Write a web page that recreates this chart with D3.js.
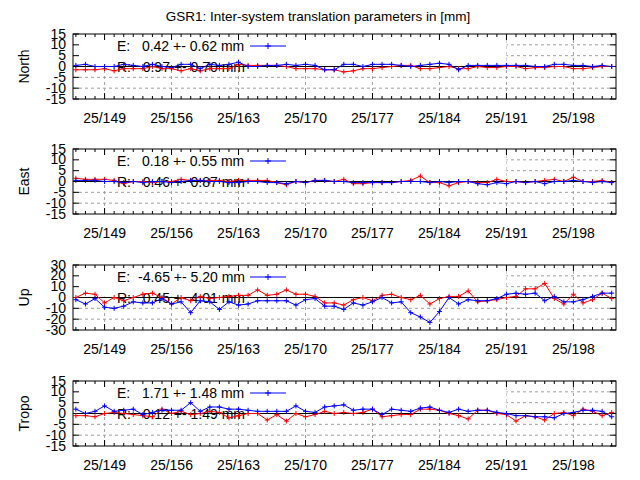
<!DOCTYPE html>
<html><head><meta charset="utf-8">
<script src="https://cdn.jsdelivr.net/npm/d3@7"></script>
<style>body{margin:0;background:#fff}text{font-family:"Liberation Sans",Arial,sans-serif}</style>
</head><body><svg id="c" width="640" height="480"></svg>
<script>
const days = d3.range(146, 203)
const tickDays = [149, 156, 163, 170, 177, 184, 191, 198]
const panelNames = ["North", "East", "Up", "Tropo"]
const keyE = ["E:   0.42 +- 0.62 mm", "E:   0.18 +- 0.55 mm", "E:  -4.65 +- 5.20 mm", "E:   1.71 +- 1.48 mm"]
const keyR = ["R:   0.97 +- 0.70 mm", "R:   0.46 +- 0.87 mm", "R:   0.45 +- 4.01 mm", "R:   0.12 +- 1.49 mm"]
const northE = [0.5,1,0,0,0,1,0.5,0,1,0,-0.5,1,1,-1,1,0.5,1,2,0,0,0.5,0.5,1,0.5,1,0.5,-1.5,-1.5,1,1,0,1,1,1,0.5,0,0.5,1,1.5,1,-1.5,0.5,0.5,0.5,0.5,0.5,0.5,0.5,0,0,1,1,0.5,0.5,0,0.5,0]
const northR = [-1.5,-1.5,-1.5,-1,-2,-1,-1,-1,0,-1,-1,-2,-1,-2,-1,-1,-1,1,0.5,0.5,0.5,0.5,0,-1,-1,-1,-1.5,-1.5,-2.5,-2,-1,-1,-0.5,0,0.5,0.5,-1,-1,-0.5,0,-1,-1,0,-0.5,-0.5,0,0,-1,-0.5,-0.5,0,0,-1,-1,-0.5,0,0]
const eastE = [0.5,0.5,0.5,0,0,-0.5,0,-0.5,0,0,-0.5,0,0.5,0.5,0,0,-0.5,-0.5,0,0,-0.5,-0.5,-1,0,-0.5,0.5,0.5,0,0,-0.5,-0.5,-0.5,-0.5,-0.5,0,0,0,-0.5,0,-0.5,0,0,-1,-1.5,-0.5,-1,0,-0.5,0,-1,0,0,0.5,0,-0.5,0,-0.5]
const eastR = [1.5,1,1,1,0.5,-1,0,0,-0.5,0,0,1,0.5,0.5,0.5,0.5,0,0.5,0.5,0.5,0.5,-0.5,-1.5,0,-0.5,0.5,0.5,0,1,-1,-1,-0.5,-0.5,-0.5,0,0.5,2.5,-0.5,-0.5,-2,-0.5,0,-0.5,-0.5,1,0,0,-0.5,0,0.5,1,0,2,0,0,0.5,-0.5]
const upE = [-2,-6,-1,-9,-10,-8,-4,-5,-5,-1,-6,-4,-14,-3,-4,-11,-4,-7,-6,-3,-3,-3,-3,-7,-2,-1,-8,-8,-11,-5,-7,-4,0,-5,-4,-14,-18,-23,-13,0,-6,-2,-3,-3,-1,3,4,3,4,-3,1,-4,-4,-2,1,4,4]
const upR = [0,4,3,-5,0,-3,0,3,4,0,-6,0,-3,1,-1,0,1,2,2,7,2,3,7,3,3,1,-5,-5,-7,-2,0,-3,2,3,0,-2,2,-6,-1,1,1,6,-4,-3,-2,0,1,8,8,13,-1,-6,3,-5,-2,4,-1]
const tropoE = [2,0,1,3.5,1,1.5,2,-0.5,0.5,1.5,1.5,1.5,5,1,3,3,2,2,1.5,1,1,1,1,3.5,1,0.5,3,3.5,4,1.5,2,2,-0.5,2,1.5,1,2.5,3,1.5,0.5,2,1,1.5,1.5,0.5,0,-1,-1,-1.5,-1.5,-2,0,0.5,1.5,1.5,1,-1.5]
const tropoR = [-1,-1,-1.5,0,0.5,0,-0.5,-1,-1.5,2,0,1,-0.5,0,1,0.5,-2,-1,0,0,-3,-0.5,-3.5,0,-1.5,-0.5,1,0,0.5,0,0.5,2,-1.5,-1,-0.5,-0.5,2,2,1.5,0,-1,-2.5,1.5,1.5,0,-0.5,-3.5,-1,-1.5,-3,0,0.5,-1,2,1,-1,0.5]
const seriesE = [northE, eastE, upE, tropoE]
const seriesR = [northR, eastR, upR, tropoR]
const yMax = [15, 15, 30, 15]
const yStep = [5, 5, 10, 5]

const svg = d3.select("#c")
const left = 73, right = 616, ph = 65
const tops = [34, 149, 265, 381]
const fs = 14
const x = d3.scaleLinear().domain([145.7, 202.45]).range([left, right])

svg.append("text").attr("x", 318).attr("y", 21).attr("text-anchor", "middle")
  .attr("font-size", 13.5).text("GSR1: Inter-system translation parameters in [mm]")

panelNames.forEach((name, p) => {
  const top = tops[p]
  const y = d3.scaleLinear().domain([-yMax[p], yMax[p]]).range([top + ph, top])
  const g = svg.append("g")
  const yt = d3.range(-yMax[p], yMax[p] + 0.1, yStep[p])
  const clipId = "clip" + p
  g.append("clipPath").attr("id", clipId).append("rect")
    .attr("x", left).attr("y", top).attr("width", right - left).attr("height", ph)

  // grid
  yt.filter(v => v !== 0 && Math.abs(v) !== yMax[p]).forEach(v => {
    g.append("line").attr("x1", left).attr("x2", right).attr("y1", y(v)).attr("y2", y(v))
      .attr("stroke", "#a0a0a0").attr("stroke-dasharray", "3,3")
  })
  tickDays.forEach(d => {
    g.append("line").attr("x1", x(d)).attr("x2", x(d)).attr("y1", top).attr("y2", top + ph)
      .attr("stroke", "#a0a0a0").attr("stroke-dasharray", "3,3")
  })
  // opaque key box
  g.append("rect").attr("x", left + 1).attr("y", top + 1).attr("width", x(191) - left - 1)
    .attr("height", y(0) - top - 2).attr("fill", "#fff")

  // ticks
  d3.range(146, 203).forEach(d => {
    const len = tickDays.includes(d) ? 6 : 3
    g.append("line").attr("x1", x(d)).attr("x2", x(d)).attr("y1", top + ph).attr("y2", top + ph - len).attr("stroke", "#000")
    g.append("line").attr("x1", x(d)).attr("x2", x(d)).attr("y1", top).attr("y2", top + len).attr("stroke", "#000")
  })
  yt.forEach(v => {
    g.append("line").attr("x1", left).attr("x2", left + 6).attr("y1", y(v)).attr("y2", y(v)).attr("stroke", "#000")
    g.append("line").attr("x1", right).attr("x2", right - 6).attr("y1", y(v)).attr("y2", y(v)).attr("stroke", "#000")
    g.append("text").attr("x", left - 7).attr("y", y(v) + 4.5).attr("text-anchor", "end")
      .attr("font-size", fs).text(v)
  })
  tickDays.forEach(d => {
    g.append("text").attr("x", x(d)).attr("y", top + ph + 24).attr("text-anchor", "middle")
      .attr("font-size", fs).text("25/" + d)
  })
  g.append("text").attr("transform", `translate(29,${top + ph / 2}) rotate(-90)`)
    .attr("text-anchor", "middle").attr("font-size", fs).text(name)

  // key
  g.append("text").attr("x", 117).attr("y", top + 17).attr("font-size", fs).attr("xml:space", "preserve").text(keyE[p])
  g.append("text").attr("x", 117).attr("y", top + 38).attr("font-size", fs).attr("xml:space", "preserve").text(keyR[p])
  g.append("line").attr("x1", 250).attr("x2", 286).attr("y1", top + 12).attr("y2", top + 12).attr("stroke", "#00f")
  g.append("path").attr("d", `M265,${top + 12}h6M268,${top + 9}v6`).attr("stroke", "#00f")

  // zero line
  g.append("line").attr("x1", left).attr("x2", right).attr("y1", y(0)).attr("y2", y(0)).attr("stroke", "#000")

  const line = d3.line().x((v, i) => x(days[i])).y(v => y(v))
  const dg = g.append("g").attr("clip-path", `url(#${clipId})`)
  ;[[seriesR[p], "#f00"], [seriesE[p], "#00f"]].forEach(([vals, col]) => {
    dg.append("path").attr("d", line(vals)).attr("fill", "none").attr("stroke", col)
    dg.selectAll(null).data(vals).enter().append("path")
      .attr("d", (v, i) => `M${x(days[i]) - 2.5},${y(v)}h5M${x(days[i])},${y(v) - 2.5}v5`)
      .attr("stroke", col)
  })

  g.append("rect").attr("x", left).attr("y", top).attr("width", right - left).attr("height", ph)
    .attr("fill", "none").attr("stroke", "#000")
})
</script></body></html>
